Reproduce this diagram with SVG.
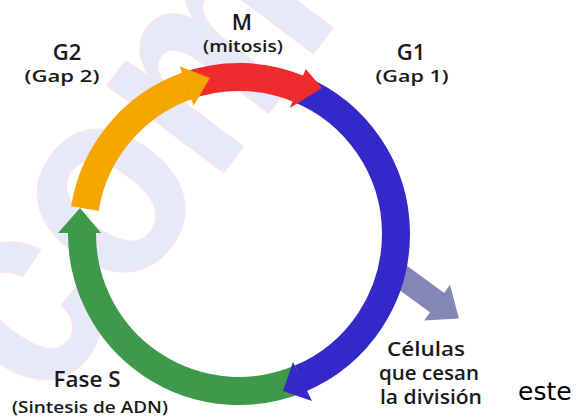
<svg xmlns="http://www.w3.org/2000/svg" width="586" height="419" viewBox="0 0 586 419">
  <style>
    .lbl { font-family: "Open Sans", "Liberation Sans", sans-serif; fill: #1a1a1a; text-anchor: middle; font-weight: 600; }
    .big { font-size: 22px; }
    .sub { font-size: 16px; }
    .mid { font-size: 19px; }
    .ring { fill: none; stroke-width: 28; stroke-linecap: butt; }
    .wm { font-family: "Liberation Sans", sans-serif; font-weight: bold; font-size: 240px; fill: #e8e8fb; stroke: #fde4e4; stroke-width: 1.2; }
  </style>
  <rect width="586" height="419" fill="#ffffff"/>
  <g id="watermark">
    <text class="wm" transform="translate(45,410) rotate(-53) scale(1,1.15)">com</text>
  </g>
  <g id="connectors">
    <polygon id="exit-arrow" fill="#8585b6" points="402.1,262.3 444.2,292.9 450,284.8 458.9,318.5 424.2,320.4 430,312.3 387.9,281.7"/>
    <path class="ring" stroke="#f5a600" d="M 84.9 208.5 A 157 157 0 0 1 186.6 86.0"/>
    <path class="ring" stroke="#f02b2d" d="M 186.6 86.0 A 157 157 0 0 1 297.8 88.4"/>
    <path class="ring" stroke="#3428c9" d="M 297.8 88.4 A 157 157 0 0 1 300.3 378.5"/>
    <path class="ring" stroke="#3e9a4a" d="M 300.3 378.5 A 157 157 0 0 1 82.0 232.6"/>
    <polygon fill="#f5a600" points="193.6,105.8 179.6,66.2 210,78"/>
    <polygon fill="#f02b2d" points="289.9,107.9 305.7,69 322,88"/>
    <polygon fill="#3428c9" points="293,362 312,401 283,391"/>
    <polygon fill="#3e9a4a" points="101,233 58,233 80,208"/>
  </g>
  <g id="node-M">
    <text class="lbl big" x="242" y="30">M</text>
    <text class="lbl sub" x="243" y="52" textLength="80" lengthAdjust="spacingAndGlyphs">(mitosis)</text>
  </g>
  <g id="node-G2">
    <text class="lbl big" x="67" y="60">G2</text>
    <text class="lbl sub" x="62" y="82" textLength="75" lengthAdjust="spacingAndGlyphs">(Gap 2)</text>
  </g>
  <g id="node-G1">
    <text class="lbl big" x="411" y="60">G1</text>
    <text class="lbl sub" x="412" y="82" textLength="73" lengthAdjust="spacingAndGlyphs">(Gap 1)</text>
  </g>
  <g id="node-S">
    <text class="lbl big" x="87" y="387" textLength="67" lengthAdjust="spacingAndGlyphs">Fase S</text>
    <text class="lbl sub" x="90" y="413" textLength="156" lengthAdjust="spacingAndGlyphs">(Sintesis de ADN)</text>
  </g>
  <g id="node-exit">
    <text class="lbl mid" x="426" y="356" textLength="78" lengthAdjust="spacingAndGlyphs">Células</text>
    <text class="lbl mid" x="429" y="380" textLength="100" lengthAdjust="spacingAndGlyphs">que cesan</text>
    <text class="lbl mid" x="431" y="404" textLength="102" lengthAdjust="spacingAndGlyphs">la división</text>
  </g>
  <g id="note">
    <text x="518" y="400" font-family="DejaVu Sans, Verdana, sans-serif" font-size="25" fill="#000000">este</text>
  </g>
</svg>
